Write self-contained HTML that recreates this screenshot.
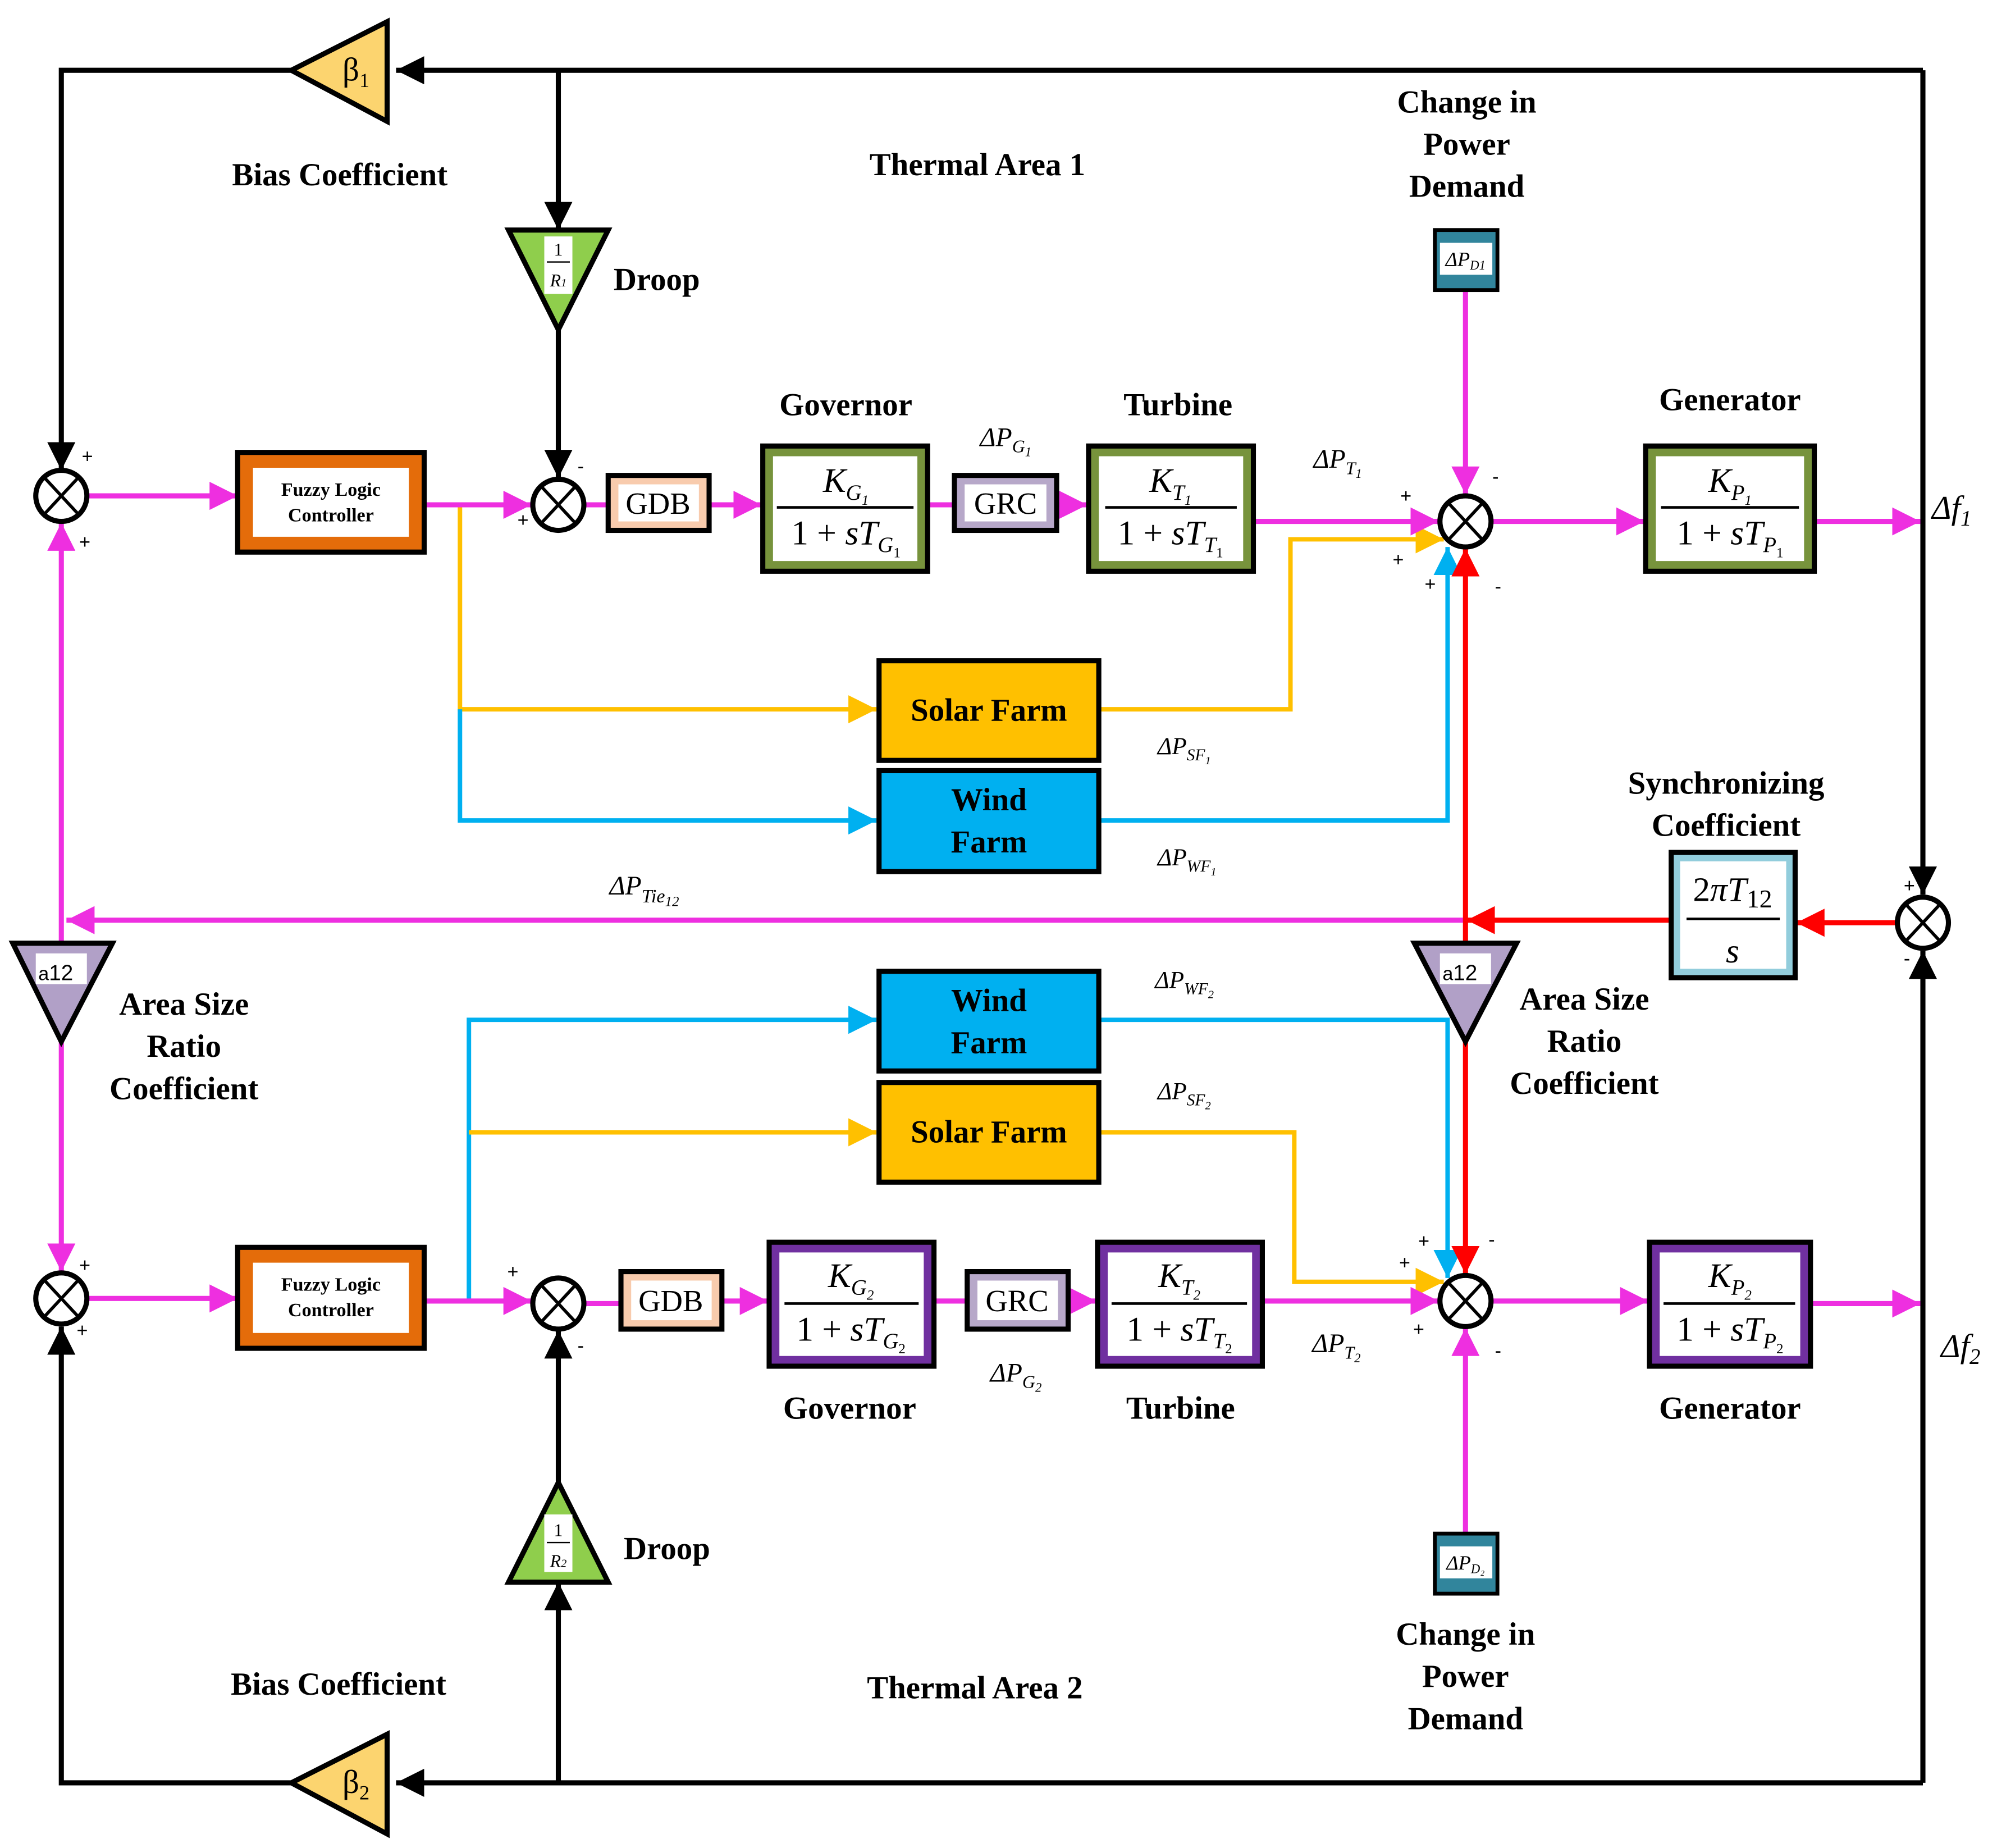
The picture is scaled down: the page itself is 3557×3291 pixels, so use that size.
<!DOCTYPE html>
<html><head><meta charset="utf-8"><style>
html,body{margin:0;padding:0;background:#fff;}
svg{display:block;}
.lb{font-family:"Liberation Serif",serif;font-weight:bold;font-size:25px;fill:#000;text-anchor:middle;}
.m{font-family:"Liberation Serif",serif;font-style:italic;fill:#000;}
.n{font-family:"Liberation Serif",serif;fill:#000;}
.s{font-family:"Liberation Sans",sans-serif;font-size:15px;fill:#000;}
</style></head><body>
<svg width="3557" height="3291" viewBox="0 0 1563 1446" preserveAspectRatio="none" xmlns="http://www.w3.org/2000/svg">
<defs>
<marker id="ak" markerUnits="userSpaceOnUse" markerWidth="24" markerHeight="24" refX="22" refY="11" orient="auto"><path d="M0,0 L22,11 L0,22 z" fill="#000"/></marker>
<marker id="ap" markerUnits="userSpaceOnUse" markerWidth="24" markerHeight="24" refX="22" refY="11" orient="auto"><path d="M0,0 L22,11 L0,22 z" fill="#ee2fe0"/></marker>
<marker id="ay" markerUnits="userSpaceOnUse" markerWidth="24" markerHeight="24" refX="22" refY="11" orient="auto"><path d="M0,0 L22,11 L0,22 z" fill="#ffc000"/></marker>
<marker id="ab" markerUnits="userSpaceOnUse" markerWidth="24" markerHeight="24" refX="22" refY="11" orient="auto"><path d="M0,0 L22,11 L0,22 z" fill="#00b0f0"/></marker>
<marker id="ar" markerUnits="userSpaceOnUse" markerWidth="24" markerHeight="24" refX="22" refY="11" orient="auto"><path d="M0,0 L22,11 L0,22 z" fill="#ff0000"/></marker>
<g id="sj" stroke="#000" stroke-width="4" fill="#fff"><circle cx="0" cy="0" r="20"/><line x1="-13" y1="-14" x2="13" y2="14" stroke-width="2.5"/><line x1="13" y1="-14" x2="-13" y2="14" stroke-width="2.5"/></g>
</defs>
<rect width="1563" height="1446" fill="#fff"/>

<g stroke="#000" stroke-width="4" fill="none">
<polyline points="1505,55 1505,700" marker-end="url(#ak)"/>
<line x1="1505" y1="55" x2="310" y2="55" marker-end="url(#ak)"/>
<polyline points="228,55 48,55 48,368" marker-end="url(#ak)"/>
<line x1="437" y1="55" x2="437" y2="180" marker-end="url(#ak)"/>
<line x1="437" y1="258" x2="437" y2="374" marker-end="url(#ak)"/>
<line x1="1505" y1="1395" x2="1505" y2="744" marker-end="url(#ak)"/>
<line x1="1505" y1="1395" x2="310" y2="1395" marker-end="url(#ak)"/>
<polyline points="228,1395 48,1395 48,1038" marker-end="url(#ak)"/>
<line x1="437" y1="1395" x2="437" y2="1238" marker-end="url(#ak)"/>
<line x1="437" y1="1160" x2="437" y2="1041" marker-end="url(#ak)"/>
</g>

<g fill="none" stroke-width="3.5">
<polyline points="360,395 360,555 686,555" stroke="#ffc000" marker-end="url(#ay)"/>
<polyline points="360,555 360,642 686,642" stroke="#00b0f0" marker-end="url(#ab)"/>
<polyline points="860,555 1010,555 1010,422 1130,422" stroke="#ffc000" marker-end="url(#ay)"/>
<polyline points="860,642 1133,642 1133,428" stroke="#00b0f0" marker-end="url(#ab)"/>
<polyline points="367,1018 367,798 686,798" stroke="#00b0f0" marker-end="url(#ab)"/>
<polyline points="367,886 686,886" stroke="#ffc000" marker-end="url(#ay)"/>
<polyline points="860,798 1133,798 1133,1000" stroke="#00b0f0" marker-end="url(#ab)"/>
<polyline points="860,886 1013,886 1013,1003 1130,1003" stroke="#ffc000" marker-end="url(#ay)"/>
</g>

<g fill="none" stroke="#ee2fe0" stroke-width="4">
<line x1="68" y1="388" x2="186" y2="388" marker-end="url(#ap)"/>
<line x1="332" y1="395" x2="416" y2="395" marker-end="url(#ap)"/>
<line x1="457" y1="395" x2="476" y2="395"/>
<line x1="555" y1="395" x2="596" y2="395" marker-end="url(#ap)"/>
<line x1="726" y1="395" x2="747" y2="395"/>
<line x1="827" y1="395" x2="851" y2="395" marker-end="url(#ap)"/>
<line x1="981" y1="408" x2="1126" y2="408" marker-end="url(#ap)"/>
<line x1="1167" y1="408" x2="1287" y2="408" marker-end="url(#ap)"/>
<line x1="1420" y1="408" x2="1503" y2="408" marker-end="url(#ap)"/>
<line x1="1147" y1="227" x2="1147" y2="387" marker-end="url(#ap)"/>
<line x1="1147" y1="720" x2="52" y2="720" marker-end="url(#ap)"/>
<line x1="48" y1="738" x2="48" y2="409" marker-end="url(#ap)"/>
<line x1="48" y1="815" x2="48" y2="995" marker-end="url(#ap)"/>
<line x1="68" y1="1016" x2="186" y2="1016" marker-end="url(#ap)"/>
<line x1="332" y1="1018" x2="416" y2="1018" marker-end="url(#ap)"/>
<line x1="457" y1="1020" x2="486" y2="1020"/>
<line x1="565" y1="1018" x2="601" y2="1018" marker-end="url(#ap)"/>
<line x1="731" y1="1018" x2="757" y2="1018"/>
<line x1="836" y1="1018" x2="858" y2="1018" marker-end="url(#ap)"/>
<line x1="988" y1="1018" x2="1126" y2="1018" marker-end="url(#ap)"/>
<line x1="1167" y1="1018" x2="1290" y2="1018" marker-end="url(#ap)"/>
<line x1="1417" y1="1020" x2="1503" y2="1020" marker-end="url(#ap)"/>
<line x1="1147" y1="1200" x2="1147" y2="1039" marker-end="url(#ap)"/>
</g>

<g fill="none" stroke="#ff0000" stroke-width="4">
<line x1="1485" y1="722" x2="1406" y2="722" marker-end="url(#ar)"/>
<line x1="1308" y1="720" x2="1148" y2="720" marker-end="url(#ar)"/>
<line x1="1147" y1="720" x2="1147" y2="429" marker-end="url(#ar)"/>
<line x1="1147" y1="720" x2="1147" y2="997" marker-end="url(#ar)"/>
</g>

<use href="#sj" transform="translate(48,388)"/>
<use href="#sj" transform="translate(437,395)"/>
<use href="#sj" transform="translate(1147,408)"/>
<use href="#sj" transform="translate(48,1016)"/>
<use href="#sj" transform="translate(437,1020)"/>
<use href="#sj" transform="translate(1147,1018)"/>
<use href="#sj" transform="translate(1505,722)"/>

<g class="s">
<text x="64" y="362">+</text><text x="62" y="429">+</text>
<text x="452" y="370">-</text><text x="405" y="412">+</text>
<text x="1096" y="393">+</text><text x="1090" y="443">+</text><text x="1115" y="462">+</text><text x="1168" y="378">-</text><text x="1170" y="464">-</text>
<text x="62" y="995">+</text><text x="60" y="1046">+</text>
<text x="397" y="1000">+</text><text x="452" y="1058">-</text>
<text x="1110" y="976">+</text><text x="1095" y="993">+</text><text x="1106" y="1045">+</text><text x="1165" y="975">-</text><text x="1170" y="1062">-</text>
<text x="1490" y="698">+</text><text x="1490" y="755">-</text>
</g>

<g stroke="#000" stroke-width="4">
<polygon points="228,55 303,17 303,95" fill="#fcd46f"/>
<polygon points="228,1395 303,1357 303,1435" fill="#fcd46f"/>
<polygon points="398,180 476,180 437,258" fill="#8fce4c"/>
<polygon points="398,1238 476,1238 437,1160" fill="#8fce4c"/>
<polygon points="10,738 88,738 48,815" fill="#b1a0c7"/>
<polygon points="1107,738 1187,738 1147,815" fill="#b1a0c7"/>
</g>
<text x="268" y="63" class="n" font-size="26">β<tspan font-size="16" dy="5">1</tspan></text>
<text x="268" y="1403" class="n" font-size="26">β<tspan font-size="16" dy="5">2</tspan></text>
<g fill="#fff"><rect x="28" y="746" width="40" height="24"/><rect x="1127" y="746" width="40" height="24"/></g>
<text x="30" y="767" class="s" font-size="22">a<tspan font-size="17">12</tspan></text>
<text x="1129" y="767" class="s" font-size="22">a<tspan font-size="17">12</tspan></text>
<g fill="#fff"><rect x="426" y="185" width="22" height="45"/><rect x="426" y="1185" width="22" height="45"/></g>
<text x="437" y="200" class="n" font-size="14" text-anchor="middle">1</text><line x1="428" y1="205" x2="446" y2="205" stroke="#000"/><text x="437" y="224" class="m" font-size="14" text-anchor="middle">R<tspan font-size="9">1</tspan></text>
<text x="437" y="1202" class="n" font-size="14" text-anchor="middle">1</text><line x1="428" y1="1207" x2="446" y2="1207" stroke="#000"/><text x="437" y="1226" class="m" font-size="14" text-anchor="middle">R<tspan font-size="9">2</tspan></text>

<g stroke="#000" stroke-width="4">
<rect x="186" y="354" width="146" height="78" fill="#e46c0a"/>
<rect x="186" y="976" width="146" height="79" fill="#e46c0a"/>
</g>
<rect x="198" y="366" width="122" height="54" fill="#fff"/>
<rect x="198" y="988" width="122" height="55" fill="#fff"/>
<g class="n" font-weight="bold" font-size="15" text-anchor="middle">
<text x="259" y="388">Fuzzy Logic</text><text x="259" y="408">Controller</text>
<text x="259" y="1010">Fuzzy Logic</text><text x="259" y="1030">Controller</text>
</g>

<g stroke="#000" stroke-width="4">
<rect x="476" y="372" width="79" height="43" fill="#f8cbad"/>
<rect x="486" y="995" width="79" height="45" fill="#f8cbad"/>
<rect x="747" y="372" width="80" height="43" fill="#b7a8c9"/>
<rect x="757" y="995" width="79" height="45" fill="#b7a8c9"/>
</g>
<g fill="#fff"><rect x="484" y="379" width="63" height="29"/><rect x="494" y="1002" width="63" height="31"/><rect x="755" y="379" width="64" height="29"/><rect x="765" y="1002" width="63" height="31"/></g>
<g class="n" font-size="24" text-anchor="middle">
<text x="515" y="402">GDB</text><text x="525" y="1026">GDB</text>
<text x="787" y="402">GRC</text><text x="796" y="1026">GRC</text>
</g>

<g stroke="#000" stroke-width="4">
<rect x="597" y="349" width="129" height="98" fill="#77933c"/>
<rect x="852" y="349" width="129" height="98" fill="#77933c"/>
<rect x="1288" y="349" width="132" height="98" fill="#77933c"/>
<rect x="602" y="972" width="129" height="97" fill="#7030a0"/>
<rect x="859" y="972" width="129" height="97" fill="#7030a0"/>
<rect x="1291" y="972" width="126" height="97" fill="#7030a0"/>
<rect x="1308" y="667" width="97" height="98" fill="#92cddc"/>
</g>
<g fill="#fff">
<rect x="605" y="357" width="113" height="82"/><rect x="860" y="357" width="113" height="82"/><rect x="1296" y="357" width="116" height="82"/>
<rect x="610" y="980" width="113" height="81"/><rect x="867" y="980" width="113" height="81"/><rect x="1299" y="980" width="110" height="81"/>
<rect x="1315" y="674" width="83" height="84"/>
</g>
<g stroke="#000" stroke-width="2">
<line x1="608" y1="397" x2="715" y2="397"/><line x1="865" y1="397" x2="968" y2="397"/><line x1="1300" y1="397" x2="1408" y2="397"/>
<line x1="614" y1="1020" x2="719" y2="1020"/><line x1="870" y1="1020" x2="976" y2="1020"/><line x1="1302" y1="1020" x2="1405" y2="1020"/>
<line x1="1320" y1="719" x2="1393" y2="719"/>
</g>
<g font-size="27">
<text x="662" y="385" class="m" text-anchor="middle">K<tspan font-size="17" dy="6">G</tspan><tspan font-size="11" dy="4">1</tspan></text>
<text x="662" y="426" class="n" text-anchor="middle">1 + <tspan class="m">sT</tspan><tspan class="m" font-size="17" dy="6">G</tspan><tspan font-size="11" dy="4">1</tspan></text>
<text x="916" y="385" class="m" text-anchor="middle">K<tspan font-size="17" dy="6">T</tspan><tspan font-size="11" dy="4">1</tspan></text>
<text x="916" y="426" class="n" text-anchor="middle">1 + <tspan class="m">sT</tspan><tspan class="m" font-size="17" dy="6">T</tspan><tspan font-size="11" dy="4">1</tspan></text>
<text x="1354" y="385" class="m" text-anchor="middle">K<tspan font-size="17" dy="6">P</tspan><tspan font-size="11" dy="4">1</tspan></text>
<text x="1354" y="426" class="n" text-anchor="middle">1 + <tspan class="m">sT</tspan><tspan class="m" font-size="17" dy="6">P</tspan><tspan font-size="11" dy="4">1</tspan></text>
<text x="666" y="1007" class="m" text-anchor="middle">K<tspan font-size="17" dy="6">G</tspan><tspan font-size="11" dy="4">2</tspan></text>
<text x="666" y="1049" class="n" text-anchor="middle">1 + <tspan class="m">sT</tspan><tspan class="m" font-size="17" dy="6">G</tspan><tspan font-size="11" dy="4">2</tspan></text>
<text x="923" y="1007" class="m" text-anchor="middle">K<tspan font-size="17" dy="6">T</tspan><tspan font-size="11" dy="4">2</tspan></text>
<text x="923" y="1049" class="n" text-anchor="middle">1 + <tspan class="m">sT</tspan><tspan class="m" font-size="17" dy="6">T</tspan><tspan font-size="11" dy="4">2</tspan></text>
<text x="1354" y="1007" class="m" text-anchor="middle">K<tspan font-size="17" dy="6">P</tspan><tspan font-size="11" dy="4">2</tspan></text>
<text x="1354" y="1049" class="n" text-anchor="middle">1 + <tspan class="m">sT</tspan><tspan class="m" font-size="17" dy="6">P</tspan><tspan font-size="11" dy="4">2</tspan></text>
<text x="1356" y="705" class="n" text-anchor="middle">2<tspan class="m">πT</tspan><tspan font-size="20" dy="5">12</tspan></text>
<text x="1356" y="753" class="m" text-anchor="middle">s</text>
</g>

<g stroke="#000" stroke-width="4">
<rect x="688" y="517" width="172" height="78" fill="#ffc000"/>
<rect x="688" y="603" width="172" height="79" fill="#00b0f0"/>
<rect x="688" y="760" width="172" height="78" fill="#00b0f0"/>
<rect x="688" y="847" width="172" height="78" fill="#ffc000"/>
</g>
<g class="lb">
<text x="774" y="564">Solar Farm</text>
<text x="774" y="634">Wind</text><text x="774" y="667">Farm</text>
<text x="774" y="791">Wind</text><text x="774" y="824">Farm</text>
<text x="774" y="894">Solar Farm</text>
</g>

<g stroke="#000" stroke-width="3">
<rect x="1123" y="180" width="49" height="47" fill="#31859c"/>
<rect x="1123" y="1200" width="49" height="47" fill="#31859c"/>
</g>
<rect x="1127" y="190" width="41" height="25" fill="#fff"/><rect x="1127" y="1210" width="41" height="25" fill="#fff"/>
<text x="1147" y="208" class="m" font-size="16" text-anchor="middle">ΔP<tspan font-size="10" dy="3">D1</tspan></text>
<text x="1147" y="1228" class="m" font-size="16" text-anchor="middle">ΔP<tspan font-size="10" dy="3">D₂</tspan></text>

<g class="lb">
<text x="266" y="145">Bias Coefficient</text>
<text x="765" y="137">Thermal Area 1</text>
<text x="1148" y="88">Change in</text><text x="1148" y="121">Power</text><text x="1148" y="154">Demand</text>
<text x="514" y="227">Droop</text>
<text x="662" y="325">Governor</text>
<text x="922" y="325">Turbine</text>
<text x="1354" y="321">Generator</text>
<text x="1351" y="621">Synchronizing</text><text x="1351" y="654">Coefficient</text>
<text x="144" y="794">Area Size</text><text x="144" y="827">Ratio</text><text x="144" y="860">Coefficient</text>
<text x="1240" y="790">Area Size</text><text x="1240" y="823">Ratio</text><text x="1240" y="856">Coefficient</text>
<text x="665" y="1110">Governor</text>
<text x="924" y="1110">Turbine</text>
<text x="1354" y="1110">Generator</text>
<text x="522" y="1220">Droop</text>
<text x="265" y="1326">Bias Coefficient</text>
<text x="763" y="1329">Thermal Area 2</text>
<text x="1147" y="1287">Change in</text><text x="1147" y="1320">Power</text><text x="1147" y="1353">Demand</text>
</g>
<g class="m" font-size="21">
<text x="767" y="349">ΔP<tspan font-size="14" dy="5">G</tspan><tspan font-size="10" dy="3">1</tspan></text>
<text x="1028" y="366">ΔP<tspan font-size="14" dy="5">T</tspan><tspan font-size="10" dy="3">1</tspan></text>
<text x="906" y="590" font-size="19">ΔP<tspan font-size="13" dy="5">SF</tspan><tspan font-size="9" dy="3">1</tspan></text>
<text x="906" y="677" font-size="19">ΔP<tspan font-size="13" dy="5">WF</tspan><tspan font-size="9" dy="3">1</tspan></text>
<text x="477" y="700">ΔP<tspan font-size="15" dy="6">Tie</tspan><tspan font-size="11" dy="3">12</tspan></text>
<text x="904" y="773" font-size="19">ΔP<tspan font-size="13" dy="5">WF</tspan><tspan font-size="9" dy="3">2</tspan></text>
<text x="906" y="860" font-size="19">ΔP<tspan font-size="13" dy="5">SF</tspan><tspan font-size="9" dy="3">2</tspan></text>
<text x="1027" y="1058">ΔP<tspan font-size="14" dy="5">T</tspan><tspan font-size="10" dy="3">2</tspan></text>
<text x="775" y="1081">ΔP<tspan font-size="14" dy="5">G</tspan><tspan font-size="10" dy="3">2</tspan></text>
<text x="1512" y="406" font-size="26">Δf<tspan class="n" font-size="17" dy="5">1</tspan></text>
<text x="1519" y="1062" font-size="26">Δf<tspan class="n" font-size="17" dy="5">2</tspan></text>
</g>
</svg>
</body></html>
